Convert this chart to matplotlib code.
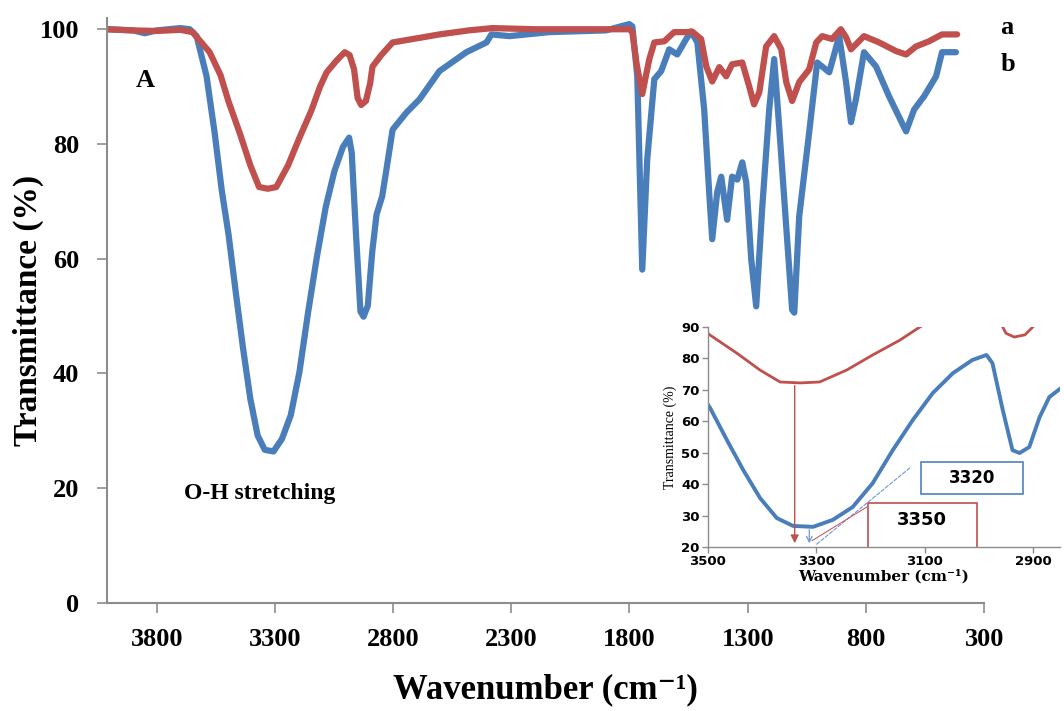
import matplotlib
matplotlib.use("Agg")
import matplotlib.pyplot as plt
from matplotlib.patches import Rectangle

# FTIR spectra (wavenumber cm-1, transmittance %)
wn_a = [4010, 3900, 3800, 3700, 3648, 3576, 3530, 3496, 3447, 3404, 3367, 3330,
        3294, 3244, 3196, 3146, 3109, 3081, 3040, 3005, 2984, 2965, 2950, 2935,
        2915, 2897, 2887, 2850, 2802, 2688, 2604, 2480, 2380, 2200, 2000, 1800,
        1788, 1770, 1746, 1730, 1716, 1695, 1653, 1611, 1560, 1535, 1497, 1475,
        1450, 1420, 1391, 1366, 1323, 1294, 1273, 1251, 1222, 1188, 1158, 1137,
        1112, 1082, 1040, 1010, 985, 943, 906, 884, 863, 808, 744, 673, 630, 588,
        533, 478, 414]
tr_a = [100.0, 99.8, 99.7, 99.9, 99.5, 96.0, 92.0, 87.4, 81.7, 76.3, 72.5, 72.2,
        72.5, 76.3, 81.1, 85.8, 90.0, 92.5, 94.5, 96.0, 95.5, 93.0, 88.0, 86.8,
        87.5, 90.6, 93.5, 95.5, 97.7, 98.5, 99.1, 99.8, 100.2, 100.0, 100.0, 100.0,
        99.5, 94.0, 88.7, 92.0, 94.8, 97.7, 97.9, 99.5, 99.5, 99.6, 98.3, 93.5,
        90.9, 93.4, 91.8, 93.9, 94.2, 90.1, 86.9, 89.0, 97.0, 98.8, 96.5, 90.8,
        87.5, 90.8, 93.0, 97.7, 98.8, 98.3, 100.0, 98.6, 96.5, 98.8, 97.7, 96.2,
        95.6, 97.0, 97.9, 99.1, 99.1]

wn_b = [4010, 3900, 3850, 3800, 3700, 3660, 3631, 3589, 3555, 3525, 3496, 3465,
        3435, 3404, 3373, 3343, 3306, 3270, 3233, 3196, 3159, 3122, 3085, 3048,
        3012, 2986, 2975, 2956, 2938, 2925, 2907, 2888, 2870, 2846, 2828, 2802,
        2743, 2688, 2604, 2490, 2405, 2384, 2308, 2139, 1900, 1801, 1788, 1767,
        1746, 1725, 1695, 1666, 1632, 1598, 1560, 1539, 1513, 1484, 1463, 1450,
        1429, 1412, 1387, 1366, 1344, 1323, 1306, 1285, 1264, 1239, 1209, 1188,
        1167, 1137, 1112, 1103, 1082, 1040, 1006, 955, 913, 884, 863, 842, 808,
        757, 702, 630, 596, 554, 503, 478, 419]
tr_b = [100.0, 99.8, 99.3, 99.8, 100.2, 100.0, 98.8, 91.8, 82.0, 72.0, 64.2, 54.0,
        44.5, 35.6, 29.2, 26.7, 26.4, 28.6, 32.7, 40.3, 50.8, 60.4, 69.0, 75.3,
        79.5, 81.1, 78.5, 63.6, 50.8, 49.9, 51.8, 61.3, 67.7, 70.9, 75.6, 82.5,
        85.5, 87.8, 92.7, 96.0, 97.7, 99.1, 98.8, 99.5, 99.8, 100.9, 100.5, 91.8,
        58.1, 77.3, 91.3, 92.7, 96.5, 95.6, 98.3, 99.6, 97.7, 86.0, 71.6, 63.4,
        71.6, 74.3, 66.8, 74.3, 73.8, 76.8, 73.3, 59.9, 51.7, 68.6, 86.0, 94.8,
        83.1, 65.6, 51.1, 50.6, 67.4, 82.0, 94.2, 92.5, 98.8, 90.8, 83.8, 87.8,
        96.0, 93.5, 88.3, 82.2, 86.0, 88.3, 91.8, 96.0, 96.0]

x_ticks = [3800, 3300, 2800, 2300, 1800, 1300, 800, 300]
y_ticks = [0, 20, 40, 60, 80, 100]
inset_x_ticks = [3500, 3300, 3100, 2900]
inset_y_ticks = [20, 30, 40, 50, 60, 70, 80, 90]

blue = "#4a7ebb"
red = "#c0504d"
grey = "#8c8c8c"
serif = ["Liberation Serif", "DejaVu Serif"]

fig = plt.figure(figsize=(10.64, 7.11), dpi=100)
ax = fig.add_axes([0.1006, 0.152, 0.8243, 0.823])

ax.plot(wn_b, tr_b, color=blue, lw=4.5, solid_joinstyle="round", solid_capstyle="round")
ax.plot(wn_a, tr_a, color=red, lw=4.5, solid_joinstyle="round", solid_capstyle="round")

ax.set_xlim(4010, 300)
ax.set_ylim(0, 102)
ax.set_xticks(x_ticks)
ax.set_yticks(y_ticks)
for s in ["top", "right"]:
    ax.spines[s].set_visible(False)
for s in ["left", "bottom"]:
    ax.spines[s].set_color(grey)
    ax.spines[s].set_linewidth(1.5)
ax.tick_params(axis="x", direction="out", length=7, width=1.2, color=grey, pad=11)
ax.tick_params(axis="y", direction="out", length=7, width=1.2, color=grey, pad=13)
for lab in ax.get_xticklabels() + ax.get_yticklabels():
    lab.set_fontfamily(serif)
    lab.set_fontweight("bold")
    lab.set_fontsize(19)

ax.set_xlabel("Wavenumber (cm\u207b\u00b9)", family=serif, fontweight="bold", fontsize=25)
ax.set_ylabel("Transmittance (%)", family=serif, fontweight="bold", fontsize=24)
ax.xaxis.set_label_coords(0.5, -0.12)
ax.yaxis.set_label_coords(-0.072, 0.5)

ax.text(3850, 91, "A", family=serif, fontweight="bold", fontsize=19, ha="center", va="center")
ax.text(3365, 19, "O-H stretching", family=serif, fontweight="bold", fontsize=17,
        ha="center", va="center")
ax.text(232, 100.3, "a", family=serif, fontweight="bold", fontsize=19, va="center",
        clip_on=False)
ax.text(232, 93.8, "b", family=serif, fontweight="bold", fontsize=19, va="center",
        clip_on=False)

# inset zoom on the O-H band
ins = fig.add_axes([0.6654, 0.2307, 0.331, 0.3094])
ins.plot(wn_b, tr_b, color=blue, lw=2.8, solid_joinstyle="round")
ins.plot(wn_a, tr_a, color=red, lw=2.0, solid_joinstyle="round")
ins.set_xlim(3500, 2850)
ins.set_ylim(20, 90)
ins.set_xticks(inset_x_ticks)
ins.set_yticks(inset_y_ticks)
for s in ["top", "right"]:
    ins.spines[s].set_visible(False)
for s in ["left", "bottom"]:
    ins.spines[s].set_color(grey)
    ins.spines[s].set_linewidth(1.0)
ins.tick_params(direction="out", length=4, width=1, color=grey, pad=2)
for lab in ins.get_xticklabels() + ins.get_yticklabels():
    lab.set_fontfamily("DejaVu Sans")
    lab.set_fontweight("bold")
    lab.set_fontsize(9.5)
ins.set_xlabel("Wavenumber (cm\u207b\u00b9)", family=["DejaVu Serif"], fontweight="bold",
               fontsize=11, labelpad=1)
ins.set_ylabel("Transmittance (%)", family=serif, fontsize=10, labelpad=3)

ins.annotate("", xy=(3340, 20.3), xytext=(3340, 72.2),
             arrowprops=dict(arrowstyle="-|>", color=red, lw=1.0, mutation_scale=12))
ins.annotate("", xy=(3313, 20.3), xytext=(3313, 26.4),
             arrowprops=dict(arrowstyle="->", color="#6a9bd1", lw=0.9, mutation_scale=10))
ins.plot([3300, 3125], [20.8, 45.5], color="#6a9bd1", lw=0.8, ls=(0, (4, 1)))
ins.plot([3308, 3207], [22.0, 32.7], color=red, lw=0.7)

ins.add_patch(Rectangle((3107, 36.9), -189, 10.2, fill=True, fc="white",
                        ec="#4f81bd", lw=1.2))
ins.text(3012, 42.0, "3320", family="DejaVu Sans", fontweight="bold", fontsize=12,
         ha="center", va="center")
ins.add_patch(Rectangle((3205, 19.0), -201, 15.1, fill=True, fc="white",
                        ec=red, lw=1.2))
ins.text(3105, 28.6, "3350", family="DejaVu Sans", fontweight="bold", fontsize=13,
         ha="center", va="center")

fig.savefig("out.png", dpi=100)
